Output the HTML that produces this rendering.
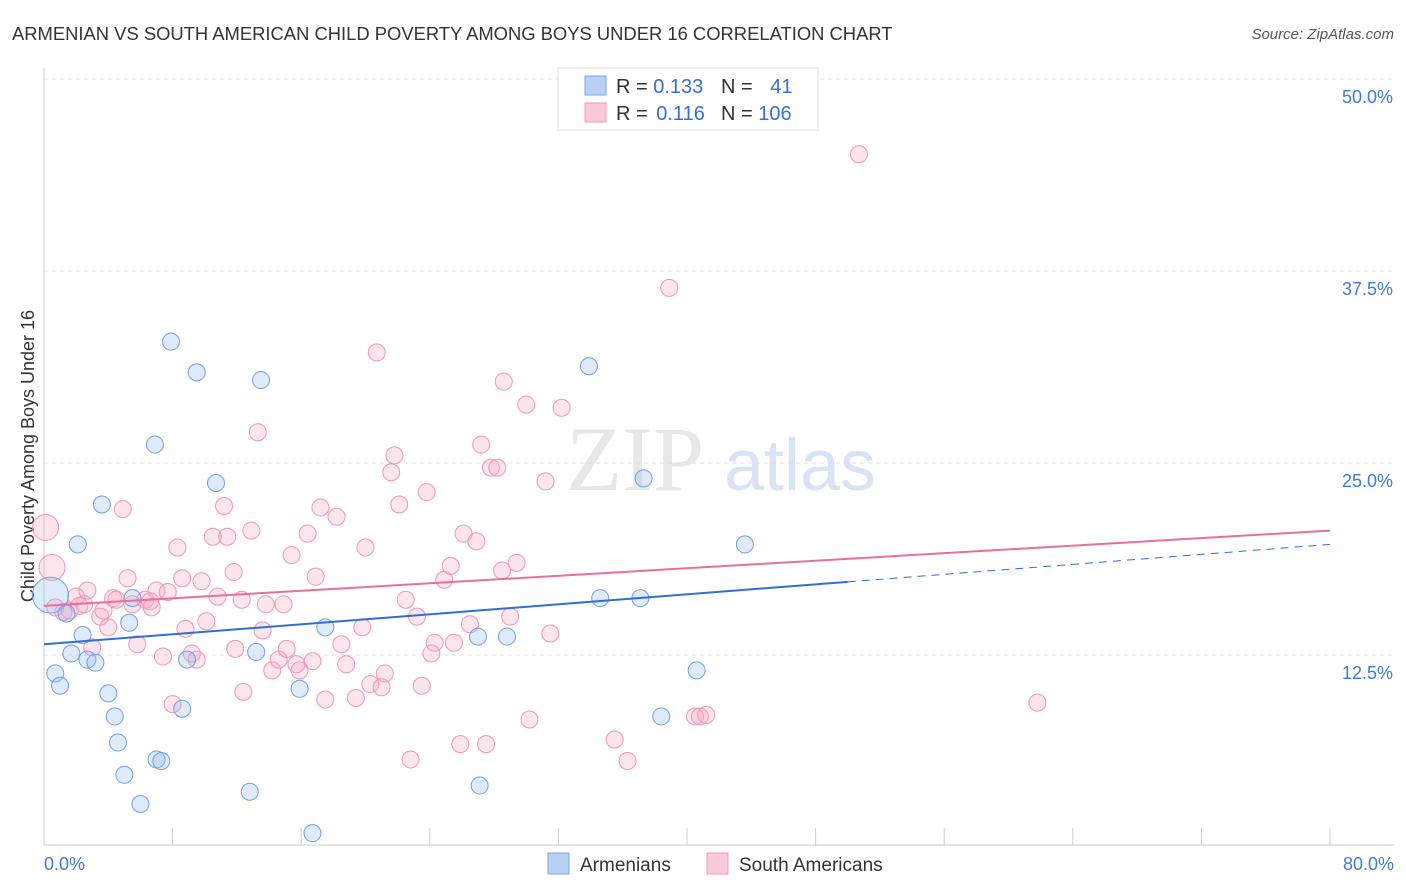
<!DOCTYPE html>
<html><head><meta charset="utf-8">
<style>
body{margin:0;background:#fff;font-family:"Liberation Sans",sans-serif;}
svg{display:block}
</style></head>
<body>
<svg id="chart" width="1406" height="892" xmlns="http://www.w3.org/2000/svg">
<text x="12" y="40" font-size="18.4" fill="#333">ARMENIAN VS SOUTH AMERICAN CHILD POVERTY AMONG BOYS UNDER 16 CORRELATION CHART</text>
<text x="1394" y="39" font-size="15" fill="#555" font-style="italic" text-anchor="end">Source: ZipAtlas.com</text>
<text x="34" y="456" font-size="18" fill="#333" text-anchor="middle" transform="rotate(-90 34 456)">Child Poverty Among Boys Under 16</text>
<g>
<text x="635" y="490" font-size="92" fill="#ddd" font-family="Liberation Serif,serif" text-anchor="middle" opacity="0.7">ZIP</text>
<text x="800" y="490" font-size="72" fill="#c8d8f0" text-anchor="middle" opacity="0.7">atlas</text>
</g>
<g id="grid"></g>
<g id="marks"></g>
<g>
<rect x="558" y="68" width="260" height="62" fill="#fff" stroke="#ddd"/>
<rect x="585" y="76" width="21" height="19" fill="#b8d0f4" stroke="#7aa6e8"/>
<rect x="585" y="103" width="21" height="19" fill="#fac8d6" stroke="#f09ab4"/>
<text x="616" y="93" font-size="20" fill="#333">R = <tspan fill="#3370d0">0.133</tspan></text>
<text x="721" y="93" font-size="20" fill="#333">N = <tspan fill="#3370d0" dx="12">41</tspan></text>
<text x="616" y="120" font-size="20" fill="#333">R = <tspan fill="#3370d0" dx="3">0.116</tspan></text>
<text x="721" y="120" font-size="20" fill="#333">N = <tspan fill="#3370d0">106</tspan></text>
</g>
<g>
<rect x="548" y="853" width="21" height="21" fill="#b8d0f4" stroke="#7aa6e8"/>
<text x="580" y="871" font-size="19" fill="#333">Armenians</text>
<rect x="707" y="853" width="21" height="21" fill="#fac8d6" stroke="#f09ab4"/>
<text x="739" y="871" font-size="19" fill="#333">South Americans</text>
</g>
</svg>
<script>
const yTicks=[12.5,25,37.5,50];
const yTickLabels=["12.5%","25.0%","37.5%","50.0%"];
const xTicks=[0,8,16,24,32,40,48,56,64,72,80];
const blueX=[0.4,0.7,1.0,1.4,1.7,2.1,2.4,2.7,3.2,3.6,4.0,4.4,4.6,5.0,5.3,5.5,6.0,6.9,7.0,7.3,7.9,8.6,8.9,9.5,10.7,12.8,13.2,13.5,15.9,16.7,17.5,27.0,27.1,28.8,33.9,34.6,37.1,37.3,38.4,40.6,43.6];
const blueY=[16.4,11.3,10.5,15.2,12.6,19.7,13.8,12.2,12.0,22.3,10.0,8.5,6.8,4.7,14.6,16.2,2.8,26.2,5.7,5.6,32.9,9.0,12.2,30.9,23.7,3.6,12.7,30.4,10.3,0.9,14.3,13.7,4.0,13.7,31.3,16.2,16.2,24.0,8.5,11.5,19.7];
const pinkX=[0.1,0.5,0.7,1.2,1.6,2.0,2.2,2.5,2.7,3.0,3.5,3.7,4.0,4.3,4.5,4.9,5.2,5.5,5.8,6.3,6.6,6.7,7.0,7.4,7.7,8.0,8.3,8.6,8.8,9.2,9.5,9.8,10.1,10.5,10.8,11.2,11.4,11.8,11.9,12.3,12.4,12.9,13.3,13.6,13.8,14.2,14.6,14.9,15.1,15.4,15.7,15.9,16.4,16.7,16.9,17.2,17.5,18.2,18.5,18.8,19.4,19.8,20.0,20.3,20.7,21.0,21.2,21.6,21.8,22.1,22.5,22.8,23.2,23.5,23.8,24.1,24.3,24.9,25.3,25.5,26.1,26.5,26.9,27.2,27.8,28.2,28.5,28.6,29.0,29.4,30.0,30.2,31.2,31.5,32.2,35.5,36.3,38.9,40.5,40.8,41.2,50.7,61.8,27.5,25.9];
const pinkY=[20.8,18.2,15.6,15.3,15.4,16.3,15.7,15.8,16.7,13.0,15.0,15.4,14.3,16.2,16.1,22.0,17.5,15.8,13.2,16.1,16.0,15.6,16.7,12.4,16.6,9.3,19.5,17.5,14.2,12.6,12.2,17.3,14.7,20.2,16.3,22.2,20.2,17.9,12.9,16.1,10.1,20.6,27.0,14.1,15.8,11.5,12.2,15.8,12.9,19.0,11.9,11.5,20.4,12.1,17.6,22.1,9.6,21.5,13.2,11.9,9.7,14.3,19.5,10.6,32.2,10.4,11.3,24.4,25.5,22.3,16.1,5.7,15.0,10.5,23.1,12.6,13.3,17.4,18.3,13.3,20.4,14.5,19.9,26.2,24.7,24.7,18.0,30.3,15.0,18.5,28.8,8.3,23.8,13.9,28.6,7.0,5.6,36.4,8.5,8.5,8.6,45.1,9.4,6.7,6.7];
const pinkTrend=[15.7,20.6];
const blueTrend=[13.2,19.7];
const blueSolidEnd=50.0;

const X0=44,X1=1330,Y0=847,YPX=192/12.5;
const sx=v=>X0+(v/80)*(X1-X0);
const sy=v=>Y0-v*YPX;
const NS="http://www.w3.org/2000/svg";
const grid=document.getElementById('grid'),marks=document.getElementById('marks');
function mk(tag,attrs,parent){const e=document.createElementNS(NS,tag);for(const k in attrs)e.setAttribute(k,attrs[k]);parent.appendChild(e);return e;}
yTicks.forEach((t,i)=>{
  const g=mk('line',{x1:44,x2:1394,y1:sy(t),y2:sy(t),stroke:'#ddd','stroke-dasharray':'4,4'},grid);
  
  
  const l=mk('text',{x:1393,y:sy(t)+24,'font-size':18,fill:'#3f7ad6','text-anchor':'end'},grid);
  l.textContent=yTickLabels[i];
  
  
});
const ax=mk('line',{x1:44,x2:1394,y1:845,y2:845,stroke:'#ccc'},grid);


const ay=mk('line',{x1:44,x2:44,y1:68,y2:845,stroke:'#ccc'},grid);


xTicks.forEach(t=>{
  const tk=mk('line',{x1:sx(t),x2:sx(t),y1:828,y2:845,stroke:'#ccc'},grid);
  
  
});
const xl0=mk('text',{x:44,y:870,'font-size':18,fill:'#3f7ad6'},grid);xl0.textContent="0.0%";


const xl1=mk('text',{x:1394,y:870,'font-size':18,fill:'#3f7ad6','text-anchor':'end'},grid);xl1.textContent="80.0%";



function pt(x,y,r,fill,stroke,name){
  const c=mk('circle',{cx:sx(x),cy:sy(y),r:r,fill:fill,stroke:stroke,'stroke-width':1},marks);
  
  
}
pinkX.forEach((x,i)=>pt(x,pinkY[i],i<2?13:8.5,'rgba(248,170,195,0.3)','#f096b4','south-american-point'));
blueX.forEach((x,i)=>pt(x,blueY[i],i===0?18:8.5,'rgba(150,185,240,0.3)','#6f9fe6','armenian-point'));

const bl=mk('line',{x1:sx(0),y1:sy(blueTrend[0]),x2:sx(blueSolidEnd),y2:sy(blueTrend[0]+(blueTrend[1]-blueTrend[0])*blueSolidEnd/80),stroke:'#2f6fd6','stroke-width':2},marks);


const bd=mk('line',{x1:sx(blueSolidEnd),y1:sy(blueTrend[0]+(blueTrend[1]-blueTrend[0])*blueSolidEnd/80),x2:sx(80),y2:sy(blueTrend[1]),stroke:'#2f6fd6','stroke-width':1,'stroke-dasharray':'8,6'},marks);


const pl=mk('line',{x1:sx(0),y1:sy(pinkTrend[0]),x2:sx(80),y2:sy(pinkTrend[1]),stroke:'#e8709a','stroke-width':2},marks);


</script>
</body></html>
